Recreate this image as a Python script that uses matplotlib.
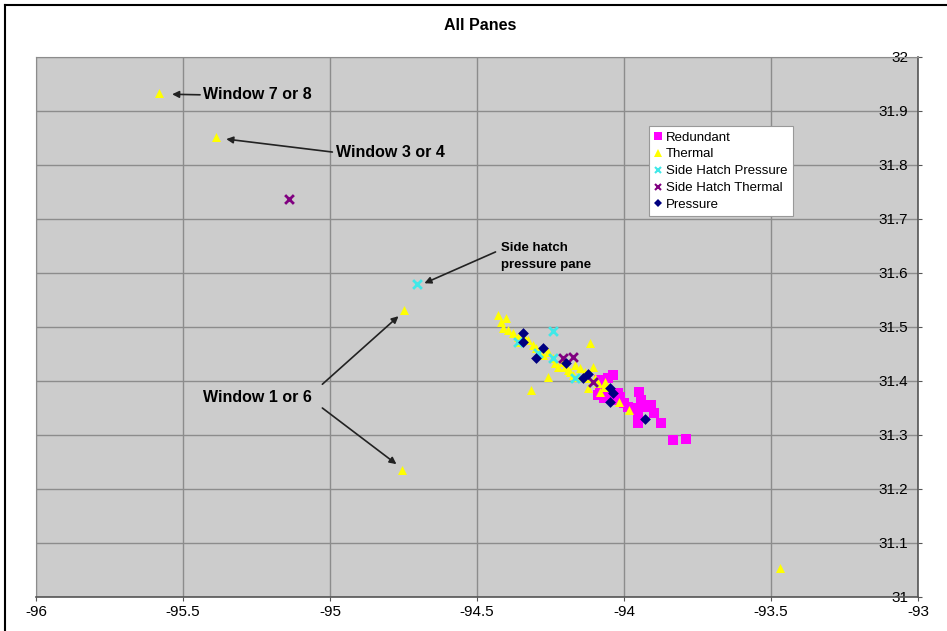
import matplotlib
matplotlib.use("Agg")
import matplotlib.pyplot as plt
from matplotlib.lines import Line2D

plt.rcParams['font.family'] = ['Liberation Sans', 'DejaVu Sans']

# --- data ---
redundant_x = [-94.039, -94.086, -94.056, -94.080, -94.090, -94.069, -94.046, -94.022,
               -94.012, -94.036, -94.001, -93.988, -93.950, -93.943, -93.933, -93.909,
               -93.954, -93.899, -93.954, -93.875, -93.835, -93.790, -93.967]
redundant_y = [31.411, 31.402, 31.406, 31.383, 31.374, 31.369, 31.378, 31.378,
               31.370, 31.365, 31.359, 31.352, 31.380, 31.365, 31.352, 31.356,
               31.341, 31.341, 31.322, 31.322, 31.291, 31.293, 31.350]

thermal_x = [-94.427, -94.420, -94.410, -94.393, -94.376, -94.359, -94.362, -94.325,
             -94.311, -94.301, -94.274, -94.277, -94.260, -94.243, -94.233, -94.223,
             -94.199, -94.192, -94.182, -94.172, -94.155, -94.148, -94.104, -94.124,
             -94.121, -94.090, -94.080, -94.069, -94.063, -94.018, -93.984,
             -94.257, -94.318, -94.114, -94.403, -94.345, -94.291, -94.209, -94.165,
             -94.131, -94.097,
             -95.581, -95.387, -94.747, -94.754, -93.470]
thermal_y = [31.522, 31.509, 31.498, 31.494, 31.489, 31.481, 31.472, 31.476,
             31.467, 31.461, 31.461, 31.448, 31.454, 31.443, 31.433, 31.426,
             31.426, 31.420, 31.417, 31.411, 31.407, 31.424, 31.426, 31.406,
             31.387, 31.396, 31.380, 31.389, 31.398, 31.361, 31.346,
             31.407, 31.383, 31.470, 31.517, 31.485, 31.454, 31.435, 31.430,
             31.417, 31.406,
             31.933, 31.852, 31.531, 31.235, 31.054]

sh_pressure_x = [-94.240, -94.359, -94.291, -94.243, -94.168, -94.107, -94.703]
sh_pressure_y = [31.493, 31.472, 31.452, 31.443, 31.406, 31.398, 31.580]

sh_thermal_x = [-94.209, -94.175, -94.107, -95.139]
sh_thermal_y = [31.443, 31.444, 31.398, 31.737]

pressure_x = [-94.342, -94.345, -94.277, -94.301, -94.196, -94.138, -94.124,
              -94.046, -94.039, -94.046, -93.930]
pressure_y = [31.489, 31.472, 31.461, 31.443, 31.433, 31.406, 31.413,
              31.387, 31.378, 31.361, 31.330]

x_ticks = [-96, -95.5, -95, -94.5, -94, -93.5, -93]
x_labels = ['-96', '-95.5', '-95', '-94.5', '-94', '-93.5', '-93']
y_ticks = [31, 31.1, 31.2, 31.3, 31.4, 31.5, 31.6, 31.7, 31.8, 31.9, 32]
y_labels = ['31', '31.1', '31.2', '31.3', '31.4', '31.5', '31.6', '31.7', '31.8', '31.9', '32']

fig = plt.figure(figsize=(9.47, 6.31), dpi=100)
ax = fig.add_axes([36 / 947, 34 / 631, 882 / 947, 540 / 631])
ax.set_facecolor('#cccccc')

ax.scatter(redundant_x, redundant_y, marker='s', s=48, color='#ff00ff', linewidths=0, zorder=3)
ax.scatter(thermal_x, thermal_y, marker='^', s=42, color='#ffff00', linewidths=0, zorder=4)
ax.scatter(sh_pressure_x, sh_pressure_y, marker='x', s=40, color='#40e8e8', linewidths=2, zorder=5)
ax.scatter(sh_thermal_x, sh_thermal_y, marker='x', s=40, color='#800080', linewidths=2, zorder=5)
ax.scatter(pressure_x, pressure_y, marker='D', s=30, color='#000080', linewidths=0, zorder=6)

ax.set_xlim(-96, -93)
ax.set_ylim(31, 32)
ax.set_xticks(x_ticks)
ax.set_xticklabels(x_labels)
ax.set_yticks(y_ticks)
ax.set_yticklabels(y_labels)
ax.yaxis.tick_right()
ax.tick_params(axis='both', labelsize=11, color='#555555', length=3, direction='out')
ax.tick_params(axis='x', pad=3)
# y labels sit inside the plot, just left of the right-hand axis
ax.tick_params(axis='y', pad=-10)
for lbl in ax.get_yticklabels():
    lbl.set_horizontalalignment('right')
ax.grid(True, color='#8c8c8c', linewidth=1)
ax.set_axisbelow(True)
for side in ['top', 'left']:
    ax.spines[side].set_color('#8c8c8c')
for side in ['bottom', 'right']:
    ax.spines[side].set_color('#555555')
    ax.spines[side].set_linewidth(1.2)

# annotations
arrow = dict(arrowstyle='-|>', color='#222222', lw=1.2, mutation_scale=10, shrinkA=0, shrinkB=0)
font = dict(fontsize=11.5, fontweight='bold', va='center', ha='left')

ax.text(-95.431, 31.930, 'Window 7 or 8', **font)
ax.annotate('', xy=(-95.537, 31.931), xytext=(-95.442, 31.930), arrowprops=arrow)

ax.text(-94.979, 31.824, 'Window 3 or 4', **font)
ax.annotate('', xy=(-95.353, 31.848), xytext=(-94.992, 31.824), arrowprops=arrow)

ax.text(-94.420, 31.631, 'Side hatch\npressure pane', fontsize=9.5, fontweight='bold',
        va='center', ha='left', linespacing=1.5)
ax.annotate('', xy=(-94.679, 31.581), xytext=(-94.437, 31.639), arrowprops=arrow)

ax.text(-95.431, 31.369, 'Window 1 or 6', **font)
ax.annotate('', xy=(-94.767, 31.520), xytext=(-95.026, 31.394), arrowprops=arrow)
ax.annotate('', xy=(-94.774, 31.246), xytext=(-95.026, 31.350), arrowprops=arrow)

handles = [
    Line2D([], [], ls='none', marker='s', ms=6, color='#ff00ff', mew=0),
    Line2D([], [], ls='none', marker='^', ms=6, color='#ffff00', mew=0),
    Line2D([], [], ls='none', marker='x', ms=5, color='#40e8e8', mew=1.5),
    Line2D([], [], ls='none', marker='x', ms=5, color='#800080', mew=1.5),
    Line2D([], [], ls='none', marker='D', ms=4.5, color='#000080', mew=0),
]
labels = ['Redundant', 'Thermal', 'Side Hatch Pressure', 'Side Hatch Thermal', 'Pressure']
leg = ax.legend(handles, labels, loc='upper left', bbox_to_anchor=(0.695, 0.872),
                fontsize=9.5, fancybox=False, framealpha=1, edgecolor='#999999',
                handlelength=0.6, handletextpad=0.3, borderpad=0.4, labelspacing=0.35,
                borderaxespad=0)
leg.get_frame().set_linewidth(0.8)

fig.text(480 / 947, 1 - 25 / 631, 'All Panes', ha='center', va='center',
         fontsize=11.5, fontweight='bold')

# outer chart border (left and top edges visible)
fig.add_artist(Line2D([5 / 947, 5 / 947], [0, 1 - 5 / 631], color='black', lw=1.5,
                      transform=fig.transFigure))
fig.add_artist(Line2D([5 / 947, 1], [1 - 5 / 631, 1 - 5 / 631], color='black', lw=1.5,
                      transform=fig.transFigure))

fig.savefig('out.png', dpi=100)
